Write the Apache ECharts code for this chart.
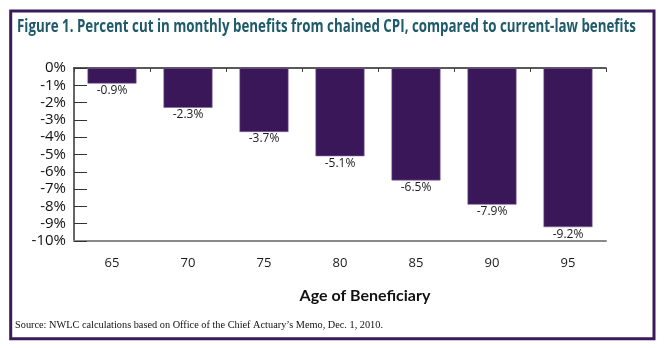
<!DOCTYPE html>
<html>
<head>
<meta charset="utf-8">
<script src="https://cdn.jsdelivr.net/npm/echarts@6/dist/echarts.min.js"></script>
<style>
  html, body { margin: 0; padding: 0; background: #ffffff; }
  #chart { width: 664px; height: 348px; }
</style>
</head>
<body>
<div id="chart"></div>
<script>
// Age of beneficiary and the percent cut in monthly benefits
const ages = ['65', '70', '75', '80', '85', '90', '95'];
const cuts = [-0.9, -2.3, -3.7, -5.1, -6.5, -7.9, -9.2];
const yTicks = [0, -1, -2, -3, -4, -5, -6, -7, -8, -9, -10];

const titleText = 'Figure 1. Percent cut in monthly benefits from chained CPI, compared to current-law benefits';
const axisTitle = 'Age of Beneficiary';
const sourceText = 'Source: NWLC calculations based on Office of the Chief Actuary\u2019s Memo, Dec. 1, 2010.';

const purple = '#3a1759';

// Horizontal squeeze so a line of text fills a given width
const measureCtx = document.createElement('canvas').getContext('2d');
function fitScale(text, font, width) {
  measureCtx.font = font;
  const w = measureCtx.measureText(text).width;
  return w > 0 ? width / w : 1;
}

const titleFont = 'bold 17px "Open Sans", sans-serif';
const sourceFont = '11px "Liberation Serif", serif';

const chart = echarts.init(document.getElementById('chart'), null, { renderer: 'canvas' });

chart.setOption({
  backgroundColor: '#ffffff',
  animation: false,
  grid: { left: 74, right: 58, top: 68, bottom: 107, containLabel: false },
  xAxis: [
    {
      type: 'category',
      position: 'bottom',
      data: ages,
      axisLine: { show: true, onZero: false, lineStyle: { color: '#8a8a8a', width: 2 } },
      axisTick: { show: false },
      axisLabel: { margin: 16, fontSize: 13, color: '#1a1a1a', fontFamily: 'Open Sans' },
      splitLine: { show: false }
    },
    {
      type: 'category',
      position: 'top',
      data: ages,
      axisLine: { show: true, onZero: false, lineStyle: { color: '#222222', width: 1.5 } },
      axisTick: { show: true, inside: true, length: 4, lineStyle: { color: '#444444' } },
      axisLabel: { show: false },
      splitLine: { show: false }
    }
  ],
  yAxis: {
    type: 'value',
    min: -10,
    max: 0,
    interval: 1,
    axisLine: { show: true, lineStyle: { color: '#333333', width: 1.5 } },
    axisTick: { show: true, inside: true, length: 13, lineStyle: { color: '#333333', width: 1 } },
    axisLabel: {
      margin: 8,
      fontSize: 15,
      color: '#111111',
      fontFamily: 'Open Sans',
      formatter: v => (yTicks.includes(v) ? v + '%' : '')
    },
    splitLine: { show: false }
  },
  series: [
    {
      type: 'bar',
      xAxisIndex: 0,
      data: cuts,
      barWidth: 49,
      itemStyle: { color: purple, borderColor: '#7d68a0', borderWidth: 0.6 },
      label: {
        show: true,
        position: 'bottom',
        distance: 1,
        fontSize: 12,
        color: '#1a1a1a',
        fontFamily: 'Open Sans',
        formatter: p => p.value.toFixed(1) + '%'
      }
    }
  ],
  graphic: [
    {
      type: 'rect',
      shape: { x: 10.7, y: 11, width: 643.3, height: 327.7 },
      style: { fill: 'none', stroke: '#3b1a5a', lineWidth: 3 },
      silent: true
    },
    {
      type: 'text',
      x: 17,
      y: 27,
      scaleX: fitScale(titleText, titleFont, 619),
      style: {
        text: titleText,
        font: titleFont,
        fill: '#1f5a6a',
        align: 'left',
        verticalAlign: 'middle'
      }
    },
    {
      type: 'text',
      x: 365,
      y: 296,
      style: {
        text: axisTitle,
        font: 'bold 16px Lato, "Open Sans", sans-serif',
        fill: '#111111',
        align: 'center',
        verticalAlign: 'middle'
      }
    },
    {
      type: 'text',
      x: 15,
      y: 325,
      scaleX: fitScale(sourceText, sourceFont, 368),
      style: {
        text: sourceText,
        font: sourceFont,
        fill: '#111111',
        align: 'left',
        verticalAlign: 'middle'
      }
    }
  ]
});
</script>
</body>
</html>
